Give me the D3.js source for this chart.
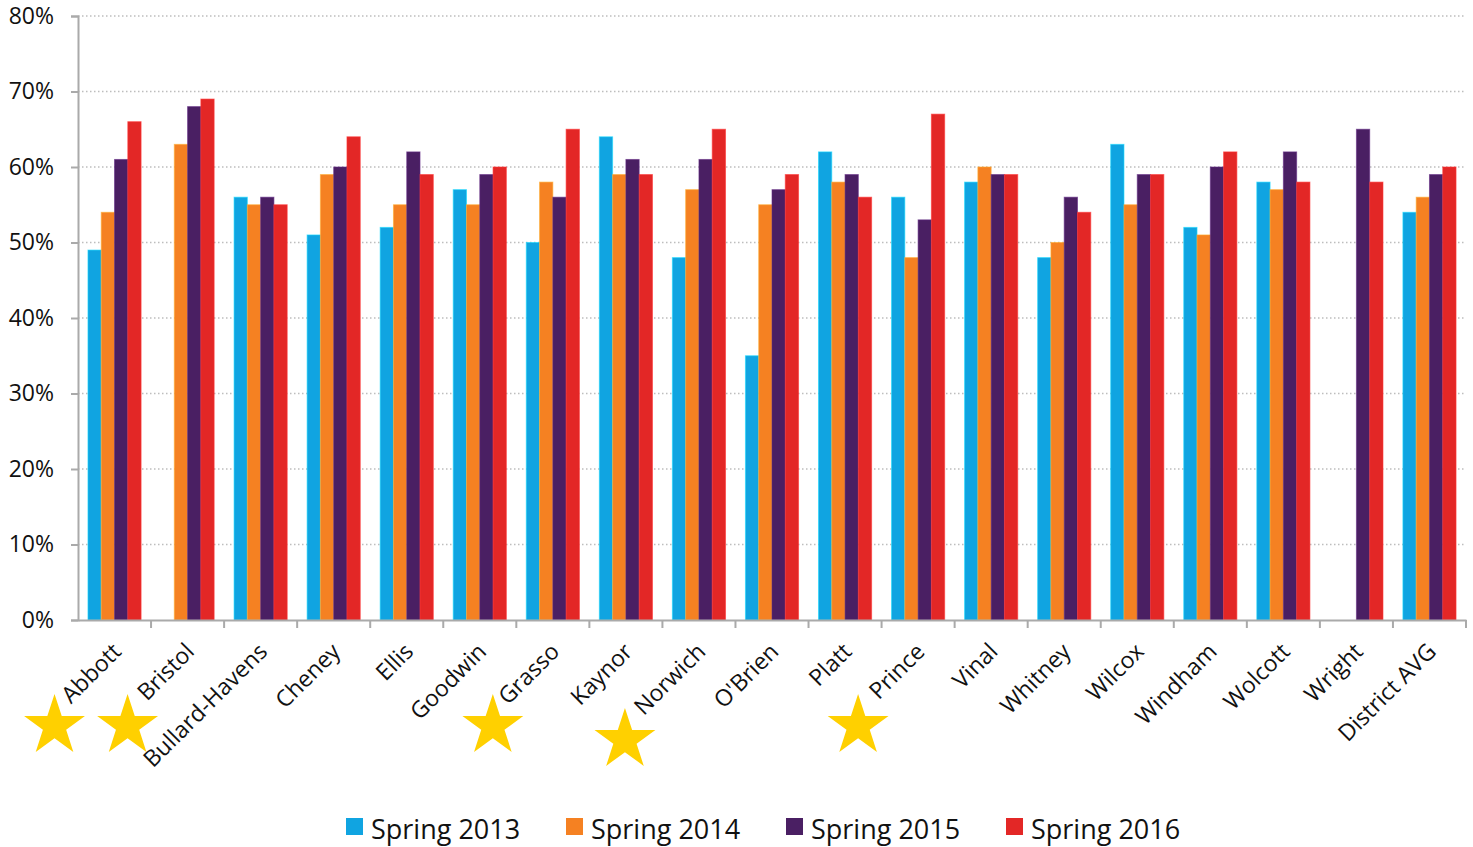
<!DOCTYPE html>
<html>
<head>
<meta charset="utf-8">
<script src="https://cdn.jsdelivr.net/npm/d3@7"></script>
<style>
  body { margin: 0; background: #fff; }
  svg text { font-family: "Open Sans", sans-serif; fill: #111; }
</style>
</head>
<body>
<svg id="chart"></svg>
<script>
const WIDTH = 1473;
const HEIGHT = 847;
const MARGIN = {top: 16, right: 7, bottom: 227, left: 78};

const schools = ['Abbott', 'Bristol', 'Bullard-Havens', 'Cheney', 'Ellis', 'Goodwin', 'Grasso',
  'Kaynor', 'Norwich', "O'Brien", 'Platt', 'Prince', 'Vinal', 'Whitney', 'Wilcox', 'Windham',
  'Wolcott', 'Wright', 'District AVG'];

const seriesNames = ['Spring 2013', 'Spring 2014', 'Spring 2015', 'Spring 2016'];

// percent proficient, null = no data
const spring2013 = [49, null, 56, 51, 52, 57, 50, 64, 48, 35, 62, 56, 58, 48, 63, 52, 58, null, 54];
const spring2014 = [54, 63, 55, 59, 55, 55, 58, 59, 57, 55, 58, 48, 60, 50, 55, 51, 57, null, 56];
const spring2015 = [61, 68, 56, 60, 62, 59, 56, 61, 61, 57, 59, 53, 59, 56, 59, 60, 62, 65, 59];
const spring2016 = [66, 69, 55, 64, 59, 60, 65, 59, 65, 59, 56, 67, 59, 54, 59, 62, 58, 58, 60];

const yTicks = [0, 10, 20, 30, 40, 50, 60, 70, 80];

const starred = ['Abbott', 'Bristol', 'Grasso', 'Norwich', 'Prince'];

const colors = ['#10a4e1', '#f58122', '#4a1f63', '#e32726'];

const values = [spring2013, spring2014, spring2015, spring2016];
const data = schools.map((s, i) => ({
  school: s,
  vals: seriesNames.map((n, j) => ({series: n, value: values[j][i]}))
}));

const width = WIDTH - MARGIN.left - MARGIN.right;
const height = HEIGHT - MARGIN.top - MARGIN.bottom;

const x0 = d3.scaleBand()
  .domain(schools)
  .range([0, width]);

const x1 = d3.scaleBand()
  .domain(seriesNames)
  .range([0, x0.bandwidth()])
  .paddingInner(0)
  .paddingOuter(0.75);

const y = d3.scaleLinear()
  .domain([0, 80])
  .range([height, 0]);

const svg = d3.select('#chart')
  .attr('width', WIDTH)
  .attr('height', HEIGHT);

const chart = svg.append('g')
  .attr('transform', `translate(${MARGIN.left}, ${MARGIN.top})`);

// dotted gridlines
chart.append('g')
  .selectAll('line')
  .data(yTicks.filter(d => d > 0))
  .enter()
  .append('line')
  .attr('x1', 0)
  .attr('x2', width)
  .attr('y1', d => y(d))
  .attr('y2', d => y(d))
  .style('stroke', '#bdbdbd')
  .style('stroke-width', 1.3)
  .style('stroke-dasharray', '1.5,2.5');

// bars
const groups = chart.selectAll('.school')
  .data(data)
  .enter()
  .append('g')
  .attr('class', 'school')
  .attr('transform', d => `translate(${x0(d.school)}, 0)`);

groups.selectAll('rect')
  .data(d => d.vals.filter(v => v.value != null))
  .enter()
  .append('rect')
  .attr('x', d => x1(d.series))
  .attr('y', d => y(d.value))
  .attr('width', x1.bandwidth())
  .attr('height', d => height - y(d.value))
  .style('fill', d => colors[seriesNames.indexOf(d.series)])
  .style('stroke', d => d3.color(colors[seriesNames.indexOf(d.series)]).brighter(0.8))
  .style('stroke-opacity', 0.6)
  .style('stroke-width', 1);

// y axis
const yAxis = d3.axisLeft(y)
  .tickValues(yTicks)
  .tickFormat(d => d + '%')
  .tickSize(7)
  .tickPadding(17);

const yG = chart.append('g').call(yAxis);
yG.select('.domain').style('stroke', '#aaa').style('stroke-width', 2);
yG.selectAll('.tick line').style('stroke', '#aaa').style('stroke-width', 2);
yG.selectAll('.tick text')
  .style('font-size', '23px')
  .style('font-family', '"Open Sans", sans-serif')
  .attr('fill', '#111');

// x axis
const xAxis = d3.axisBottom(x0).tickSize(0).tickFormat('');
const xG = chart.append('g')
  .attr('transform', `translate(0, ${height})`)
  .call(xAxis);
xG.select('.domain').style('stroke', '#aaa').style('stroke-width', 2);

xG.selectAll('.boundary')
  .data(schools)
  .enter()
  .append('line')
  .attr('x1', d => x0(d) + x0.bandwidth())
  .attr('x2', d => x0(d) + x0.bandwidth())
  .attr('y1', 0)
  .attr('y2', 8)
  .style('stroke', '#aaa')
  .style('stroke-width', 2);

chart.append('g')
  .selectAll('text')
  .data(schools)
  .enter()
  .append('text')
  .attr('transform', d => `translate(${x0(d) + x0.bandwidth() / 2 + 8}, ${height + 33}) rotate(-45)`)
  .attr('text-anchor', 'end')
  .style('font-size', '23px')
  .text(d => d);

// stars
const star = d3.symbol().type(d3.symbolStar).size(1150);
chart.append('g')
  .selectAll('path')
  .data(starred)
  .enter()
  .append('path')
  .attr('d', star)
  .attr('transform', d => {
    const dy = d === 'Norwich' ? 14 : 0;
    const dx = d === 'Norwich' ? -14 : 0;
    return `translate(${x0(d) + x0.bandwidth() / 2 - 60 + dx}, ${height + 106 + dy})`;
  })
  .style('fill', '#ffd000');

// legend
const legend = svg.append('g')
  .attr('transform', 'translate(346, 818)');

const item = legend.selectAll('.item')
  .data(seriesNames)
  .enter()
  .append('g')
  .attr('transform', (d, i) => `translate(${i * 220}, 0)`);

item.append('rect')
  .attr('width', 17)
  .attr('height', 17)
  .style('fill', (d, i) => colors[i]);

item.append('text')
  .attr('x', 25)
  .attr('y', 21)
  .style('font-size', '27px')
  .text(d => d);
</script>
</body>
</html>
